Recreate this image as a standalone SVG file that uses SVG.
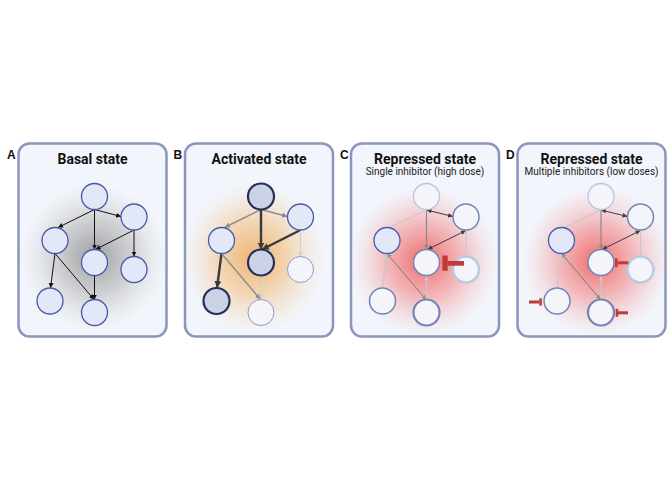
<svg xmlns="http://www.w3.org/2000/svg" width="672" height="480" viewBox="0 0 672 480">
<style>
.box{fill:#f2f5fb;stroke:#8a96bc;stroke-width:2.5}
.lbl{font-family:"Liberation Sans",Arial,sans-serif;font-weight:bold;font-size:12px;fill:#111}
.ttl{font-family:Roboto,"Liberation Sans",sans-serif;font-weight:bold;font-size:14px;fill:#111;text-anchor:middle}
.sub{font-family:Roboto,"Liberation Sans",sans-serif;font-size:10px;fill:#222;text-anchor:middle}
.n{fill:#e3e8f8;stroke:#4b5aa6;stroke-width:1.3}
.act{fill:#ccd2e6;stroke:#262e58;stroke-width:2.2}
.faint{fill:#f3f5fb;stroke:#8d99c6;stroke-width:1}
.rep{fill:#f3f5fb;stroke:#7584b6;stroke-width:1.5}
.repb{fill:#f3f5fb;stroke:#7584b6;stroke-width:2.2}
.gh{fill:#f3f5fb;stroke:#b9c5dc;stroke-width:1.3}
.ghb{fill:#f3f5fb;stroke:#bccadf;stroke-width:2.6}
.eA{stroke:#111;stroke-width:1;fill:none;marker-end:url(#mA)}
.eBd{stroke:#3a3a3a;stroke-width:2.4;fill:none;marker-end:url(#mBd)}
.eBg{stroke:#8c8c8c;stroke-width:1.4;fill:none;marker-end:url(#mBg)}
.eBl{stroke:#cfcfcf;stroke-width:1.2;fill:none;marker-end:url(#mBl)}
.eCd{stroke:#3d3d3d;stroke-width:1;fill:none;marker-start:url(#mCd);marker-end:url(#mCd)}
.eCg{stroke:#8a8a8a;stroke-width:1.2;fill:none;marker-end:url(#mCg)}
.eCg2{stroke:#7a7a7a;stroke-width:1;fill:none;marker-start:url(#mCg);marker-end:url(#mCg)}
.eCl{stroke:#c8c8c8;stroke-width:1.2;fill:none}
.eCla{stroke:#c8c8c8;stroke-width:1.2;fill:none;marker-end:url(#mCl)}
.inh{fill:#c0393b}
</style>
<defs>
<radialGradient id="gGray"><stop offset="0" stop-color="#8c8c8c" stop-opacity="0.85"/><stop offset="0.5" stop-color="#aaaaaa" stop-opacity="0.5"/><stop offset="1" stop-color="#d0d0d0" stop-opacity="0"/></radialGradient>
<radialGradient id="gOr"><stop offset="0" stop-color="#eeaa5c" stop-opacity="0.9"/><stop offset="0.5" stop-color="#f2c38a" stop-opacity="0.6"/><stop offset="1" stop-color="#f6dcc0" stop-opacity="0"/></radialGradient>
<radialGradient id="gRed"><stop offset="0" stop-color="#ee5656" stop-opacity="0.9"/><stop offset="0.5" stop-color="#f28585" stop-opacity="0.55"/><stop offset="1" stop-color="#f5b5b5" stop-opacity="0"/></radialGradient>
<marker id="mA" markerUnits="userSpaceOnUse" markerWidth="6" markerHeight="6" refX="5" refY="2.5" orient="auto"><path d="M0,0 L5,2.5 L0,5 z" fill="#111"/></marker>
<marker id="mBd" markerUnits="userSpaceOnUse" markerWidth="9" markerHeight="9" refX="7" refY="3.5" orient="auto"><path d="M0,0 L7,3.5 L0,7 z" fill="#3a3a3a"/></marker>
<marker id="mBg" markerUnits="userSpaceOnUse" markerWidth="7" markerHeight="7" refX="5.5" refY="2.75" orient="auto"><path d="M0,0 L5.5,2.75 L0,5.5 z" fill="#8c8c8c"/></marker>
<marker id="mBl" markerUnits="userSpaceOnUse" markerWidth="6" markerHeight="6" refX="4.5" refY="2.25" orient="auto"><path d="M0,0 L4.5,2.25 L0,4.5 z" fill="#cfcfcf"/></marker>
<marker id="mCd" markerUnits="userSpaceOnUse" markerWidth="6" markerHeight="6" refX="5" refY="2.25" orient="auto-start-reverse"><path d="M0,0 L5,2.25 L0,4.5 z" fill="#3d3d3d"/></marker>
<marker id="mCg" markerUnits="userSpaceOnUse" markerWidth="6" markerHeight="6" refX="4.5" refY="2.25" orient="auto-start-reverse"><path d="M0,0 L4.5,2.25 L0,4.5 z" fill="#8a8a8a"/></marker>
<marker id="mCl" markerUnits="userSpaceOnUse" markerWidth="6" markerHeight="6" refX="4.5" refY="2.25" orient="auto"><path d="M0,0 L4.5,2.25 L0,4.5 z" fill="#c8c8c8"/></marker>
</defs>

<!-- Panel frames -->
<g id="panelA">
<rect class="box" x="18.5" y="143.5" width="148" height="193" rx="11"/>
<circle cx="94" cy="257" r="74" fill="url(#gGray)"/>
<text class="lbl" x="7" y="159">A</text>
<text class="ttl" x="92.5" y="164">Basal state</text>
</g>
<g id="panelB">
<rect class="box" x="185" y="143.5" width="148" height="193" rx="11"/>
<ellipse cx="254" cy="258" rx="72" ry="76" fill="url(#gOr)"/>
<text class="lbl" x="173.5" y="159">B</text>
<text class="ttl" x="259" y="164">Activated state</text>
</g>
<g id="panelC">
<rect class="box" x="351" y="143.5" width="148" height="193" rx="11"/>
<circle cx="424" cy="261" r="74" fill="url(#gRed)"/>
<text class="lbl" x="340" y="159">C</text>
<text class="ttl" x="425" y="164">Repressed state</text>
<text class="sub" x="425" y="175">Single inhibitor (high dose)</text>
</g>
<g id="panelD">
<rect class="box" x="517.5" y="143.5" width="148" height="193" rx="11"/>
<circle cx="597" cy="261" r="74" fill="url(#gRed)"/>
<text class="lbl" x="506" y="159">D</text>
<text class="ttl" x="591.5" y="164">Repressed state</text>
<text class="sub" x="591.5" y="175">Multiple inhibitors (low doses)</text>
</g>

<g id="connectors">
<!-- A -->
<path class="eA" d="M94.5,209.5 L121,216.5"/>
<path class="eA" d="M94.5,209.5 L58,227.5"/>
<path class="eA" d="M94.5,209.5 L94.5,249.5"/>
<path class="eA" d="M134,230 L95.5,249.5"/>
<path class="eA" d="M134,230 L134,256.5"/>
<path class="eA" d="M55,253.5 L50.5,288"/>
<path class="eA" d="M55,253.5 L94,299.5"/>
<path class="eA" d="M94.5,275.5 L94.5,299.5"/>
<!-- B -->
<path class="eBg" d="M261,209.5 L287.5,216.5"/>
<path class="eBg" d="M261,209.5 L224.5,227.5"/>
<path class="eBd" d="M261,209.5 L261,249.5"/>
<path class="eBd" d="M300.5,230 L262,249.5"/>
<path class="eBl" d="M300.5,230 L300.5,256.5"/>
<path class="eBd" d="M221.5,253.5 L217,288"/>
<path class="eBg" d="M221.5,253.5 L260.5,299.5"/>
<path class="eBl" d="M261,275.5 L261,299.5"/>
<!-- C -->
<path class="eCd" d="M426.5,210 L453,216.5"/>
<path class="eCd" d="M466,230.5 L427.5,249.5"/>
<path class="eCg" d="M426.5,210 L426.5,249.5"/>
<path class="eCl" d="M426.5,210 L390,227.5"/>
<path class="eCl" d="M466,230 L466,256.5"/>
<path class="eCg2" d="M387,253.5 L426,299.5"/>
<path class="eCla" d="M382.5,288 L387,254"/>
<path class="eCla" d="M426.5,299.5 L426.5,276"/>
<!-- D -->
<path class="eCd" d="M601,210 L627.5,216.5"/>
<path class="eCd" d="M640.5,230.5 L602,249.5"/>
<path class="eCg" d="M601,210 L601,249.5"/>
<path class="eCl" d="M601,210 L564.5,227.5"/>
<path class="eCl" d="M640.5,230 L640.5,256.5"/>
<path class="eCg2" d="M561.5,253.5 L600.5,299.5"/>
<path class="eCla" d="M557,288 L561.5,254"/>
<path class="eCla" d="M601,299.5 L601,276"/>
</g>

<!-- Nodes A -->
<g id="A1"><circle class="n" cx="94.5" cy="196.5" r="13"/></g>
<g id="A2"><circle class="n" cx="134" cy="217" r="13"/></g>
<g id="A3"><circle class="n" cx="55" cy="240.5" r="13"/></g>
<g id="A4"><circle class="n" cx="94.5" cy="262.5" r="13"/></g>
<g id="A5"><circle class="n" cx="134" cy="269.5" r="13"/></g>
<g id="A6"><circle class="n" cx="50" cy="301" r="13"/></g>
<g id="A7"><circle class="n" cx="94.5" cy="312.5" r="13"/></g>
<!-- Nodes B -->
<g id="B1"><circle class="act" cx="261" cy="196.5" r="13"/></g>
<g id="B2"><circle class="n" cx="300.5" cy="217" r="13"/></g>
<g id="B3"><circle class="n" cx="221.5" cy="240.5" r="13"/></g>
<g id="B4"><circle class="act" cx="261" cy="262.5" r="13"/></g>
<g id="B5"><circle class="faint" cx="300.5" cy="269.5" r="13"/></g>
<g id="B6"><circle class="act" cx="216.5" cy="301" r="13"/></g>
<g id="B7"><circle class="faint" cx="261" cy="312.5" r="13"/></g>
<!-- Nodes C -->
<g id="C1"><circle class="gh" cx="426.5" cy="196.5" r="13"/></g>
<g id="C2"><circle class="rep" cx="466" cy="217" r="13"/></g>
<g id="C3"><circle class="n" cx="387" cy="240.5" r="13"/></g>
<g id="C4"><circle class="rep" cx="426.5" cy="262.5" r="13"/></g>
<g id="C5"><circle class="ghb" cx="466" cy="269.5" r="13"/></g>
<g id="C6"><circle class="rep" cx="382.5" cy="301" r="13"/></g>
<g id="C7"><circle class="repb" cx="426.5" cy="312.5" r="13"/></g>
<!-- Nodes D -->
<g id="D1"><circle class="gh" cx="601" cy="196.5" r="13"/></g>
<g id="D2"><circle class="rep" cx="640.5" cy="217" r="13"/></g>
<g id="D3"><circle class="n" cx="561.5" cy="240.5" r="13"/></g>
<g id="D4"><circle class="rep" cx="601" cy="262.5" r="13"/></g>
<g id="D5"><circle class="ghb" cx="640.5" cy="269.5" r="13"/></g>
<g id="D6"><circle class="rep" cx="557" cy="301" r="13"/></g>
<g id="D7"><circle class="repb" cx="601" cy="312.5" r="13"/></g>

<!-- Inhibitors -->
<g id="inhC"><rect class="inh" x="442.3" y="255.5" width="5.4" height="15.3"/><rect class="inh" x="447.5" y="261" width="16.5" height="4.7"/></g>
<g id="inhD1"><rect class="inh" x="615" y="258.3" width="2.6" height="9"/><rect class="inh" x="617.4" y="261.3" width="11" height="3"/></g>
<g id="inhD2"><rect class="inh" x="539.3" y="298.3" width="2.6" height="7.4"/><rect class="inh" x="529" y="300.5" width="10.5" height="3"/></g>
<g id="inhD3"><rect class="inh" x="615.6" y="308.8" width="2.6" height="8"/><rect class="inh" x="618" y="311.3" width="10" height="3"/></g>
</svg>
